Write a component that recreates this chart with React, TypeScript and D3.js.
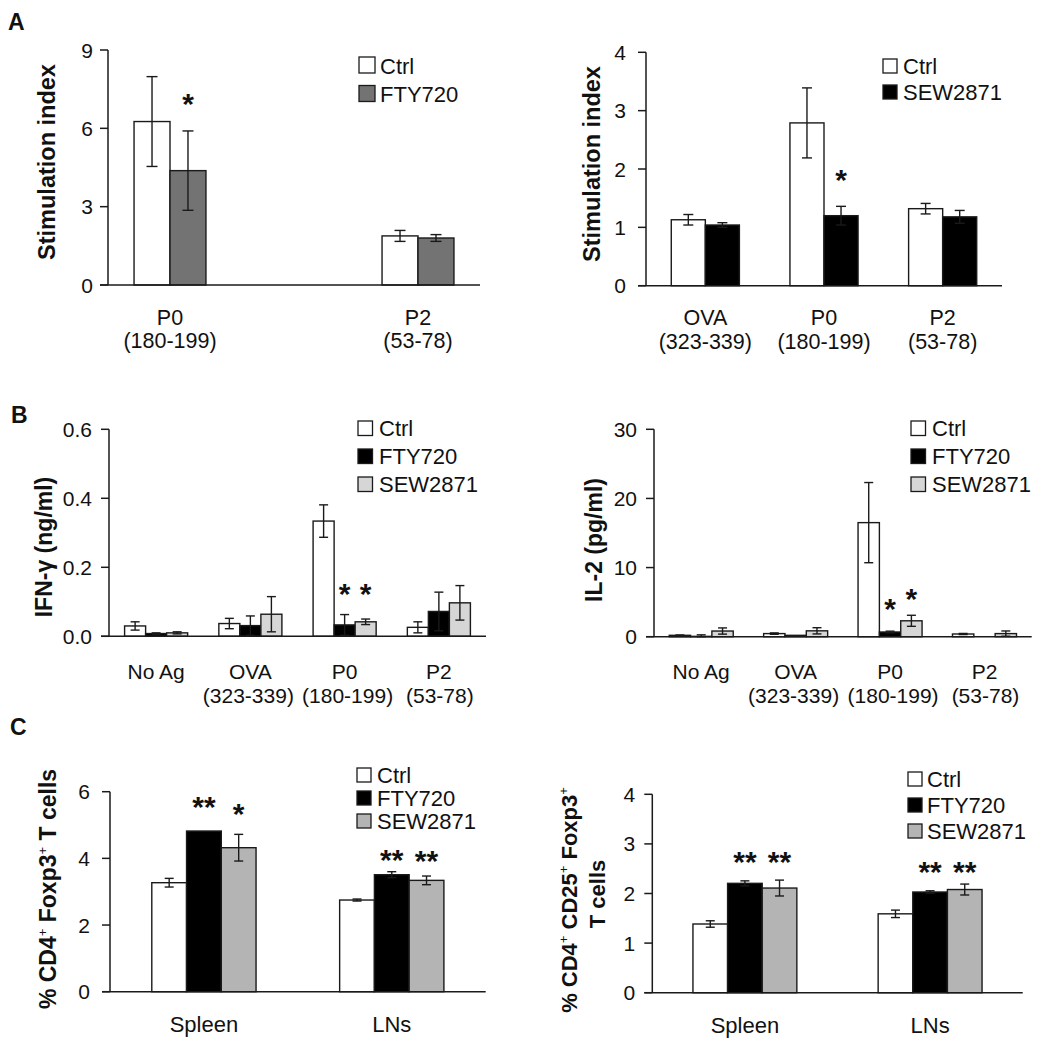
import React from "react";
import * as d3 from "d3";

const FONT = "'Liberation Sans', Arial, Helvetica, sans-serif";

// ---------- Panel A (left) ----------
const aLeftCats = ["P0", "", "P2"];
const aLeftSubs = ["(180-199)", "", "(53-78)"];
const aLeftCtrl = [6.26, null, 1.88];
const aLeftCtrlErr = [1.72, null, 0.21];
const aLeftFty = [4.38, null, 1.8];
const aLeftFtyErr = [1.52, null, 0.13];
const aLeftTicks = [0, 3, 6, 9];
const aLeftStars = [{ cat: 0, s: 1, text: "*", v: 7.2 }];

// ---------- Panel A (right) ----------
const aRightCats = ["OVA", "P0", "P2"];
const aRightSubs = ["(323-339)", "(180-199)", "(53-78)"];
const aRightCtrl = [1.13, 2.79, 1.32];
const aRightCtrlErr = [0.09, 0.6, 0.09];
const aRightSew = [1.04, 1.2, 1.18];
const aRightSewErr = [0.04, 0.16, 0.11];
const aRightTicks = [0, 1, 2, 3, 4];
const aRightStars = [{ cat: 1, s: 1, text: "*", v: 1.93 }];

// ---------- Panel B (left) IFN-gamma ----------
const bCats = ["No Ag", "OVA", "P0", "P2"];
const bSubs = ["", "(323-339)", "(180-199)", "(53-78)"];
const bLeftCtrl = [0.03, 0.037, 0.334, 0.026];
const bLeftCtrlErr = [0.012, 0.015, 0.047, 0.016];
const bLeftFty = [0.008, 0.031, 0.033, 0.072];
const bLeftFtyErr = [0.002, 0.028, 0.03, 0.056];
const bLeftSew = [0.01, 0.064, 0.042, 0.097];
const bLeftSewErr = [0.003, 0.051, 0.008, 0.05];
const bLeftTicks = [0, 0.2, 0.4, 0.6];
const bLeftStars = [
  { cat: 2, s: 1, text: "*", v: 0.144 },
  { cat: 2, s: 2, text: "*", v: 0.144 },
];

// ---------- Panel B (right) IL-2 ----------
const bRightCtrl = [0.2, 0.45, 16.5, 0.39];
const bRightCtrlErr = [0.05, 0.1, 5.8, 0.08];
const bRightFty = [0.05, 0.2, 0.68, 0];
const bRightFtyErr = [0.22, 0, 0.12, 0];
const bRightSew = [0.82, 0.85, 2.3, 0.45];
const bRightSewErr = [0.45, 0.45, 0.8, 0.38];
const bRightTicks = [0, 10, 20, 30];
const bRightStars = [
  { cat: 2, s: 1, text: "*", v: 5.07 },
  { cat: 2, s: 2, text: "*", v: 6.5 },
];

// ---------- Panel C ----------
const cCats = ["Spleen", "LNs"];
const cLeftCtrl = [3.27, 2.75];
const cLeftCtrlErr = [0.13, 0.03];
const cLeftFty = [4.82, 3.51];
const cLeftFtyErr = [0, 0.09];
const cLeftSew = [4.32, 3.34];
const cLeftSewErr = [0.4, 0.13];
const cLeftTicks = [0, 2, 4, 6];
const cLeftStars = [
  { cat: 0, s: 1, text: "**", v: 5.75 },
  { cat: 0, s: 2, text: "*", v: 5.55 },
  { cat: 1, s: 1, text: "**", v: 4.17 },
  { cat: 1, s: 2, text: "**", v: 4.13 },
];

const cRightCtrl = [1.385, 1.59];
const cRightCtrlErr = [0.065, 0.075];
const cRightFty = [2.205, 2.03];
const cRightFtyErr = [0.05, 0.025];
const cRightSew = [2.11, 2.08];
const cRightSewErr = [0.16, 0.11];
const cRightTicks = [0, 1, 2, 3, 4];
const cRightStars = [
  { cat: 0, s: 1, text: "**", v: 2.78 },
  { cat: 0, s: 2, text: "**", v: 2.78 },
  { cat: 1, s: 1, text: "**", v: 2.57 },
  { cat: 1, s: 2, text: "**", v: 2.57 },
];

type Series = { name: string; color: string; values: (number | null)[]; errs: (number | null)[] };
type Star = { cat: number; s: number; text: string; v: number };
type YLabelPart = { t: string; sup?: boolean };
type PanelCfg = {
  x0: number; x1: number; y0: number; yTop: number; max: number;
  ticks: number[]; fmt: (v: number) => string; tickGap: number;
  cats: string[]; subs?: string[]; subDx?: number[]; series: Series[]; barFrac: number; capW: number;
  stars: Star[];
  legend: { x: number; y: number; size: number; gap: number; tx: number };
  ylabel: { bx: number; cy: number; parts: YLabelPart[]; fs: number }[];
  xl1: number; xl2: number; xfs: number;
};

const STROKE = "#1a1a1a";

function Panel({ c }: { c: PanelCfg }) {
  const y = d3.scaleLinear().domain([0, c.max]).range([c.y0, c.yTop]);
  const band = d3.scaleBand<number>().domain(c.cats.map((_, i) => i)).range([c.x0, c.x1]).padding(0);
  const bw = band.bandwidth() * c.barFrac;
  const n = c.series.length;
  const barX = (cat: number, s: number) =>
    (band(cat) as number) + band.bandwidth() / 2 - (n * bw) / 2 + s * bw;
  const starFs = 30;
  return (
    <g>
      {c.series.map((se, si) =>
        se.values.map((v, ci) =>
          v == null ? null : (
            <rect
              key={`b${si}-${ci}`}
              x={barX(ci, si)}
              y={y(v)}
              width={bw}
              height={Math.max(0, c.y0 - y(v))}
              fill={se.color}
              stroke={STROKE}
              strokeWidth={1.4}
            />
          )
        )
      )}
      {c.series.map((se, si) =>
        se.values.map((v, ci) => {
          const e = se.errs[ci];
          if (v == null || !e) return null;
          const cx = barX(ci, si) + bw / 2;
          const yt = y(v + e);
          const yb = y(Math.max(0, v - e));
          return (
            <g key={`e${si}-${ci}`} stroke={STROKE} strokeWidth={1.4}>
              <line x1={cx} x2={cx} y1={yt} y2={yb} />
              <line x1={cx - c.capW / 2} x2={cx + c.capW / 2} y1={yt} y2={yt} />
              <line x1={cx - c.capW / 2} x2={cx + c.capW / 2} y1={yb} y2={yb} />
            </g>
          );
        })
      )}
      <line x1={c.x0} x2={c.x0} y1={c.y0} y2={c.yTop} stroke={STROKE} strokeWidth={1.5} />
      <line x1={c.x0 - 8} x2={c.x1} y1={c.y0} y2={c.y0} stroke={STROKE} strokeWidth={1.5} />
      {c.ticks.map((t) => (
        <g key={`t${t}`}>
          <line x1={c.x0 - 8} x2={c.x0} y1={y(t)} y2={y(t)} stroke={STROKE} strokeWidth={1.5} />
          <text
            x={c.x0 - c.tickGap}
            y={y(t)}
            dy="0.36em"
            textAnchor="end"
            fontSize={21}
            fontFamily={FONT}
            fill="#111"
          >
            {c.fmt(t)}
          </text>
        </g>
      ))}
      {c.cats.map((cat, i) => (
        <g key={`x${i}`}>
          <text
            x={(band(i) as number) + band.bandwidth() / 2}
            y={c.y0 + c.xl1}
            textAnchor="middle"
            fontSize={c.xfs}
            fontFamily={FONT}
            fill="#111"
          >
            {cat}
          </text>
          {c.subs && c.subs[i] ? (
            <text
              x={(band(i) as number) + band.bandwidth() / 2 + (c.subDx ? c.subDx[i] : 0)}
              y={c.y0 + c.xl2}
              textAnchor="middle"
              fontSize={c.xfs}
              fontFamily={FONT}
              fill="#111"
            >
              {c.subs[i]}
            </text>
          ) : null}
        </g>
      ))}
      {c.stars.map((s, i) => (
        <text
          key={`s${i}`}
          x={barX(s.cat, s.s) + bw / 2}
          y={y(s.v) + starFs * 0.57}
          textAnchor="middle"
          fontSize={starFs}
          fontWeight="bold"
          fontFamily={FONT}
          fill="#111"
        >
          {s.text}
        </text>
      ))}
      {c.series.map((se, si) => {
        const ly = c.legend.y + si * c.legend.gap;
        return (
          <g key={`l${si}`}>
            <rect
              x={c.legend.x}
              y={ly}
              width={c.legend.size}
              height={c.legend.size}
              fill={se.color}
              stroke={STROKE}
              strokeWidth={1.3}
            />
            <text x={c.legend.tx} y={ly + c.legend.size + 0.5} fontSize={22} fontFamily={FONT} fill="#111">
              {se.name}
            </text>
          </g>
        );
      })}
      {c.ylabel.map((yl, li) => (
        <text
          key={`yl${li}`}
          transform={`translate(${yl.bx},${yl.cy}) rotate(-90)`}
          textAnchor="middle"
          fontSize={yl.fs}
          fontWeight="bold"
          fontFamily={FONT}
          fill="#111"
        >
          {yl.parts.map((p, pi) => {
            const prevSup = pi > 0 && yl.parts[pi - 1].sup;
            if (p.sup)
              return (
                <tspan key={pi} fontSize={13} fontWeight="normal" dy={-9}>
                  {p.t}
                </tspan>
              );
            return (
              <tspan key={pi} dy={prevSup ? 9 : 0}>
                {p.t}
              </tspan>
            );
          })}
        </text>
      ))}
    </g>
  );
}

const int = (v: number) => d3.format("d")(v);
const one = (v: number) => d3.format(".1f")(v);

const panels: PanelCfg[] = [
  {
    x0: 108, x1: 480, y0: 285, yTop: 50, max: 9, ticks: aLeftTicks, fmt: int, tickGap: 15,
    cats: aLeftCats, subs: aLeftSubs, barFrac: 0.29, capW: 11,
    series: [
      { name: "Ctrl", color: "#ffffff", values: aLeftCtrl, errs: aLeftCtrlErr },
      { name: "FTY720", color: "#737373", values: aLeftFty, errs: aLeftFtyErr },
    ],
    stars: aLeftStars,
    legend: { x: 359, y: 57, size: 16, gap: 28.5, tx: 380 },
    ylabel: [{ bx: 55, cy: 162, fs: 23.5, parts: [{ t: "Stimulation index" }] }],
    xl1: 39.5, xl2: 63, xfs: 21.5,
  },
  {
    x0: 646, x1: 1002, y0: 285.7, yTop: 52.3, max: 4, ticks: aRightTicks, fmt: int, tickGap: 20,
    cats: aRightCats, subs: aRightSubs, barFrac: 0.287, capW: 10,
    series: [
      { name: "Ctrl", color: "#ffffff", values: aRightCtrl, errs: aRightCtrlErr },
      { name: "SEW2871", color: "#000000", values: aRightSew, errs: aRightSewErr },
    ],
    stars: aRightStars,
    legend: { x: 883, y: 59, size: 14, gap: 26, tx: 903 },
    ylabel: [{ bx: 600, cy: 164, fs: 23.5, parts: [{ t: "Stimulation index" }] }],
    xl1: 39.5, xl2: 63, xfs: 21.5,
  },
  {
    x0: 109, x1: 486, y0: 636.3, yTop: 429.3, max: 0.6, ticks: bLeftTicks, fmt: one, tickGap: 17,
    cats: bCats, subs: bSubs, subDx: [0, -2, 3, 1], barFrac: 0.223, capW: 9,
    series: [
      { name: "Ctrl", color: "#ffffff", values: bLeftCtrl, errs: bLeftCtrlErr },
      { name: "FTY720", color: "#000000", values: bLeftFty, errs: bLeftFtyErr },
      { name: "SEW2871", color: "#d6d6d6", values: bLeftSew, errs: bLeftSewErr },
    ],
    stars: bLeftStars,
    legend: { x: 358, y: 421, size: 14.5, gap: 28, tx: 379 },
    ylabel: [{ bx: 52, cy: 547, fs: 23, parts: [{ t: "IFN-γ (ng/ml)" }] }],
    xl1: 42.5, xl2: 66.5, xfs: 21,
  },
  {
    x0: 654, x1: 1031.7, y0: 636.7, yTop: 429.3, max: 30, ticks: bRightTicks, fmt: int, tickGap: 17,
    cats: bCats, subs: bSubs, subDx: [0, -2, 3, 1], barFrac: 0.226, capW: 9,
    series: [
      { name: "Ctrl", color: "#ffffff", values: bRightCtrl, errs: bRightCtrlErr },
      { name: "FTY720", color: "#000000", values: bRightFty, errs: bRightFtyErr },
      { name: "SEW2871", color: "#d6d6d6", values: bRightSew, errs: bRightSewErr },
    ],
    stars: bRightStars,
    legend: { x: 911, y: 421, size: 14.5, gap: 28, tx: 932 },
    ylabel: [{ bx: 602, cy: 540, fs: 23, parts: [{ t: "IL-2 (pg/ml)" }] }],
    xl1: 42.5, xl2: 66.5, xfs: 21,
  },
  {
    x0: 110, x1: 485.7, y0: 991.7, yTop: 791.7, max: 6, ticks: cLeftTicks, fmt: int, tickGap: 20,
    cats: cCats, barFrac: 0.185, capW: 9,
    series: [
      { name: "Ctrl", color: "#ffffff", values: cLeftCtrl, errs: cLeftCtrlErr },
      { name: "FTY720", color: "#000000", values: cLeftFty, errs: cLeftFtyErr },
      { name: "SEW2871", color: "#b4b4b4", values: cLeftSew, errs: cLeftSewErr },
    ],
    stars: cLeftStars,
    legend: { x: 357, y: 768, size: 14, gap: 23, tx: 377 },
    ylabel: [
      {
        bx: 56, cy: 889, fs: 23,
        parts: [{ t: "% CD4" }, { t: "+", sup: true }, { t: " Foxp3" }, { t: "+", sup: true }, { t: " T cells" }],
      },
    ],
    xl1: 40, xl2: 62, xfs: 22,
  },
  {
    x0: 652.3, x1: 1022.7, y0: 992.7, yTop: 794.3, max: 4, ticks: cRightTicks, fmt: int, tickGap: 17,
    cats: cCats, barFrac: 0.187, capW: 9,
    series: [
      { name: "Ctrl", color: "#ffffff", values: cRightCtrl, errs: cRightCtrlErr },
      { name: "FTY720", color: "#000000", values: cRightFty, errs: cRightFtyErr },
      { name: "SEW2871", color: "#b4b4b4", values: cRightSew, errs: cRightSewErr },
    ],
    stars: cRightStars,
    legend: { x: 908, y: 772, size: 14, gap: 26, tx: 927 },
    ylabel: [
      {
        bx: 577, cy: 900, fs: 22,
        parts: [
          { t: "% CD4" }, { t: "+", sup: true }, { t: " CD25" }, { t: "+", sup: true },
          { t: " Foxp3" }, { t: "+", sup: true },
        ],
      },
      { bx: 605, cy: 894, fs: 22, parts: [{ t: "T cells" }] },
    ],
    xl1: 40, xl2: 62, xfs: 22,
  },
];

const panelLetters = [
  { t: "A", x: 8, y: 30 },
  { t: "B", x: 11, y: 423 },
  { t: "C", x: 10, y: 735 },
];

export default function App() {
  return (
    <svg
      width={1050}
      height={1042}
      viewBox="0 0 1050 1042"
      style={{ position: "absolute", left: 0, top: 0, background: "#fff" }}
    >
      <rect x={0} y={0} width={1050} height={1042} fill="#fff" />
      {panelLetters.map((p) => (
        <text key={p.t} x={p.x} y={p.y} fontSize={23} fontWeight="bold" fontFamily={FONT} fill="#111">
          {p.t}
        </text>
      ))}
      {panels.map((c, i) => (
        <Panel key={i} c={c} />
      ))}
    </svg>
  );
}
